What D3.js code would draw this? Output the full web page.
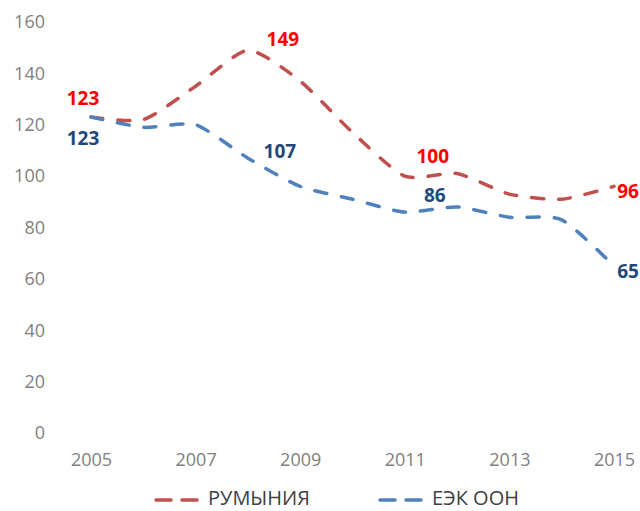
<!DOCTYPE html>
<html>
<head>
<meta charset="utf-8">
<script src="https://cdn.jsdelivr.net/npm/d3@7"></script>
<style>
  body { margin: 0; background: #fff; }
  svg { display: block; font-family: "Open Sans", "Liberation Sans", sans-serif; }
</style>
</head>
<body>
<div id="chart"></div>
<script>
// Years along the x axis (one point per year)
const years = [2005, 2006, 2007, 2008, 2009, 2010, 2011, 2012, 2013, 2014, 2015];
const tickYears = [2005, 2007, 2009, 2011, 2013, 2015];
const yTicks = [0, 20, 40, 60, 80, 100, 120, 140, 160];

// Series values
const romania = [123, 122, 135, 149, 137, 117, 100, 101, 93, 91, 96];
const unece = [123, 119, 120, 107, 96, 91, 86, 88, 84, 83, 65];

// Which points carry a data label
const romaniaLabelled = [2005, 2008, 2011, 2015];
const uneceLabelled = [2005, 2008, 2011, 2015];

const seriesNames = ["РУМЫНИЯ", "ЕЭК ООН"];

const width = 640;
const height = 511;

const svg = d3.select("#chart")
    .append("svg")
    .attr("width", width)
    .attr("height", height);

const x = d3.scalePoint()
    .domain(years)
    .range([91, 614]);

const y = d3.scaleLinear()
    .domain([0, 160])
    .range([433, 22]);

// Y axis (labels only, no line)
const yAxis = svg.append("g")
    .attr("transform", "translate(45,0)")
    .call(d3.axisLeft(y).tickValues(yTicks).tickSize(0).tickPadding(0));
yAxis.select(".domain").remove();
yAxis.selectAll("text")
    .attr("fill", "#7f7f7f")
    .style("font-size", "18px")
    .style("font-family", "'Open Sans', sans-serif");

// X axis (labels only)
const xAxis = svg.append("g")
    .attr("transform", "translate(0,453)")
    .call(d3.axisBottom(x).tickValues(tickYears).tickSize(0).tickPadding(0));
xAxis.select(".domain").remove();
xAxis.selectAll("text")
    .attr("fill", "#7f7f7f")
    .style("font-size", "18px")
    .style("font-family", "'Open Sans', sans-serif");

const line = d3.line()
    .x((d, i) => x(years[i]))
    .y(d => y(d))
    .curve(d3.curveCardinal.tension(0.35));

const series = [
    { name: seriesNames[0], values: romania, color: "#c0504d", labelColor: "#ff0000", labelled: romaniaLabelled },
    { name: seriesNames[1], values: unece, color: "#4f81bd", labelColor: "#1f497d", labelled: uneceLabelled }
];

series.forEach(s => {
    svg.append("path")
        .datum(s.values)
        .attr("fill", "none")
        .attr("stroke", s.color)
        .attr("stroke-width", 3.5)
        .attr("stroke-dasharray", "12,15")
        .attr("stroke-linecap", "round")
        .attr("d", line);
});

// Data labels, placed beside their points
const labelOffsets = {
    "РУМЫНИЯ": { 2005: [-8, -17], 2008: [35, -9], 2011: [28, -18], 2015: [14, 7] },
    "ЕЭК ООН": { 2005: [-8, 23], 2008: [32, -5], 2011: [30, -15], 2015: [14, 7] }
};

series.forEach(s => {
    svg.append("g")
        .selectAll("text")
        .data(s.labelled)
        .enter().append("text")
        .attr("x", d => x(d) + labelOffsets[s.name][d][0])
        .attr("y", d => y(s.values[years.indexOf(d)]) + labelOffsets[s.name][d][1])
        .attr("text-anchor", "middle")
        .attr("dominant-baseline", "middle")
        .attr("fill", s.labelColor)
        .style("font-size", "19px")
        .style("font-weight", "bold")
        .text(d => s.values[years.indexOf(d)]);
});

// Legend
const legendX = [156, 380];
const legend = svg.append("g")
    .selectAll("g")
    .data(series)
    .enter().append("g")
    .attr("transform", (d, i) => `translate(${legendX[i]},500)`);

legend.append("line")
    .attr("x1", 0)
    .attr("x2", 42)
    .attr("stroke", d => d.color)
    .attr("stroke-width", 3.5)
    .attr("stroke-dasharray", "15,11")
    .attr("stroke-linecap", "round");

legend.append("text")
    .attr("x", 52)
    .attr("y", 0)
    .attr("dominant-baseline", "middle")
    .attr("fill", "#404040")
    .style("font-size", "20px")
    .text(d => d.name);
</script>
</body>
</html>
